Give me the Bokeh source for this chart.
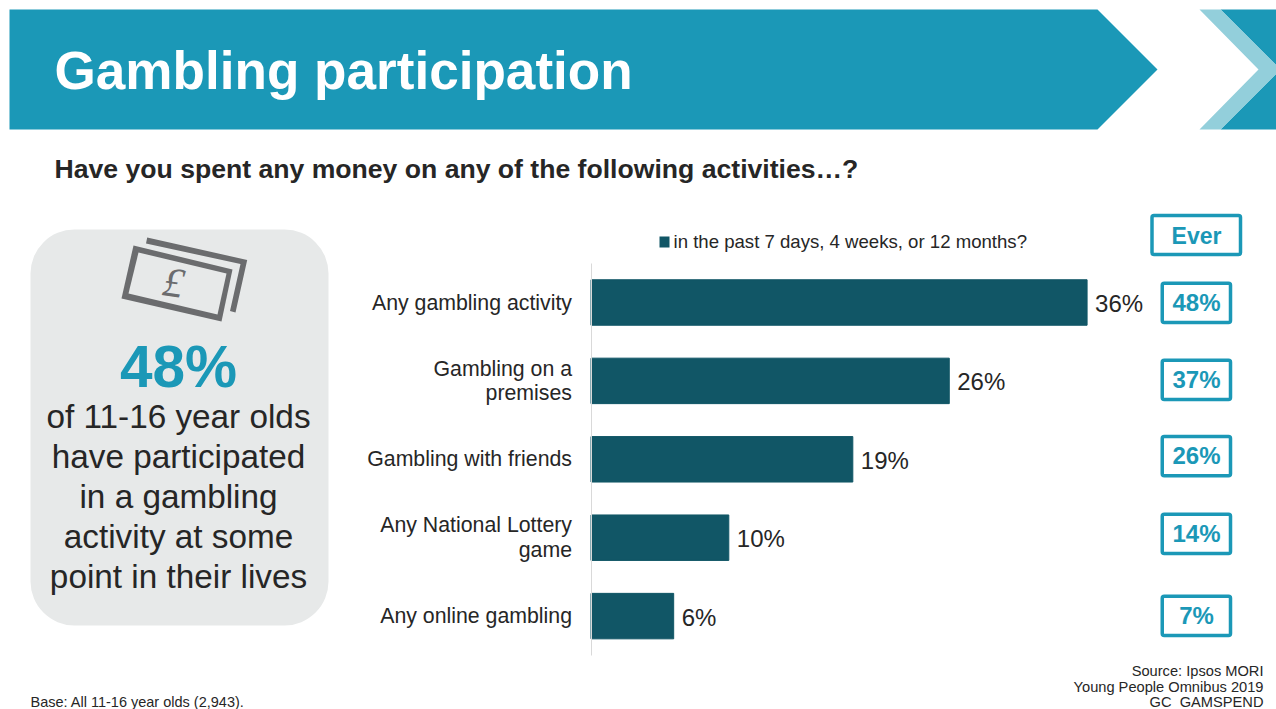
from bokeh.plotting import figure
from bokeh.core.properties import value
from bokeh.models import Label, LabelSet, BoxAnnotation, PolyAnnotation, ColumnDataSource, Range1d, LinearAxis, FixedTicker
from bokeh.embed import file_html
from bokeh.resources import INLINE

categories = ["Any gambling activity", "Gambling on a\npremises", "Gambling with friends",
              "Any National Lottery\ngame", "Any online gambling"]
past_year = [36, 26, 19, 10, 6]
ever = [48, 37, 26, 14, 7]
TITLE = "Gambling participation"
QUESTION = "Have you spent any money on any of the following activities\u2026?"
LEGEND = "in the past 7 days, 4 weeks, or 12 months?"
CALLOUT_VALUE = "48%"
CALLOUT_LINES = ["of 11-16 year olds", "have participated", "in a gambling", "activity at some", "point in their lives"]
SOURCE_LINES = ["Source: Ipsos MORI", "Young People Omnibus 2019", "GC\u00a0\u00a0GAMSPEND"]
BASE = "Base: All 11-16 year olds (2,943)."

TEAL = "#1B98B7"
LIGHT = "#93CFDB"
BAR = "#115666"
INK = "#262626"
ICON = "#6B6C6E"
PANEL = "#E7E9E9"
FONT = "Liberation Sans"
W, H = 1276, 709
X0, PX_PER_PCT = 590.5, 13.78
Y0, PX_PER_ROW = 302, 78.4

p = figure(width=W, height=H, output_backend="svg", toolbar_location=None,
           x_range=Range1d(-X0 / PX_PER_PCT, (W - X0) / PX_PER_PCT),
           y_range=Range1d((H - Y0) / PX_PER_ROW, -Y0 / PX_PER_ROW),
           x_axis_location=None, y_axis_location=None,
           min_border_left=0, min_border_right=0, min_border_top=0, min_border_bottom=0)
p.outline_line_color = None
p.background_fill_color = None
p.border_fill_color = "white"
p.grid.visible = False

rows = list(range(len(categories)))
ticks, overrides = [], {}
for r, c in zip(rows, categories):
    parts = c.split("\n")
    if len(parts) == 1:
        ticks.append(r)
        overrides[r] = c
    else:
        for k, part in zip((-0.156, 0.156), parts):
            ticks.append(r + k)
            overrides[r + k] = part
ax = LinearAxis(ticker=FixedTicker(ticks=ticks), major_label_overrides=overrides,
                fixed_location=0, bounds=(-0.5, 4.5))
ax.axis_line_color = "#D9D9D9"
ax.axis_line_width = 1
ax.major_tick_line_color = None
ax.minor_tick_line_color = None
ax.major_label_standoff = 13
ax.major_label_text_font = FONT
ax.major_label_text_font_size = "21.3px"
ax.major_label_text_color = INK
p.add_layout(ax, "left")

src = ColumnDataSource(dict(y=rows, v=past_year, t=[f"{v}%" for v in past_year]))
p.hbar(y="y", right="v", left=0, height=0.58, source=src, color=BAR)
p.add_layout(LabelSet(x="v", y="y", text="t", source=src, x_offset=8, y_offset=-1, text_font=value(FONT),
                      text_font_size="24px", text_color=INK, text_baseline="middle"))


def poly(xs, ys, fill, line=None, lw=0):
    p.add_layout(PolyAnnotation(xs=list(xs), ys=list(ys), xs_units="canvas", ys_units="canvas",
                                fill_color=fill, fill_alpha=1 if fill else 0,
                                line_color=line, line_width=lw, line_alpha=1 if line else 0, level="overlay"))


def text(x, y, s, size, color=INK, bold=False, align="left", angle=0, font=FONT, style=None):
    st = style or ("bold" if bold else "normal")
    p.add_layout(Label(x=x, y=y - 1, x_units="canvas", y_units="canvas", text=s, text_font=font,
                       text_font_size=f"{size}px", text_color=color, text_font_style=st,
                       text_align=align, text_baseline="middle", angle=angle, angle_units="deg", level="overlay"))


def box(l, t, r, b, fill=None, line=None, lw=0, radius=0, level="overlay"):
    p.add_layout(BoxAnnotation(left=l, right=r, top=t, bottom=b,
                               left_units="canvas", right_units="canvas", top_units="canvas", bottom_units="canvas",
                               fill_color=fill, fill_alpha=1 if fill else 0, line_color=line, line_width=lw,
                               line_alpha=1 if line else 0, border_radius=radius, level=level, editable=False))


# banner
poly([9, 1097, 1157, 1097, 9], [9, 9, 69, 129, 129], TEAL)
poly([1220, 1276, 1276], [9, 9, 65], TEAL)
poly([1220, 1276, 1276], [129, 129, 73], TEAL)
poly([1199, 1220, 1276, 1276, 1220, 1199, 1258], [9, 9, 65, 73, 129, 129, 69], LIGHT)
text(54, 71, TITLE, 53.1, "white", True)
text(54, 169, QUESTION, 26.6, INK, True)

# callout
box(30, 229, 328, 625, PANEL, None, 0, 44)
poly([146.7, 246.7, 235, 229.5, 240, 145.5], [237, 259.5, 312, 310.5, 263.5, 243], ICON)
poly([133, 232, 221, 121], [245, 269, 321, 298], ICON)
poly([138, 226, 217, 128], [252, 273, 314, 293], PANEL)
text(173, 283, "\u00a3", 42, ICON, angle=-8, font="Liberation Serif", style="italic", align="center")
text(178, 367, CALLOUT_VALUE, 58.5, TEAL, True, "center")
for i, line in enumerate(CALLOUT_LINES):
    text(178, 417 + 40 * i, line, 33.3, INK, False, "center")

# legend
box(659, 236, 669, 247, BAR)
text(673, 242, LEGEND, 18.6)

# ever boxes
box(1151.5, 215, 1240, 254, None, TEAL, 3.5, 2)
text(1196, 236, "Ever", 23, TEAL, True, "center")
ever_tops = [281, 358, 434.3, 512, 594]
for v, t in zip(ever, ever_tops):
    box(1161.75, t + 1.75, 1230, t + 41, None, TEAL, 3.5, 2)
    text(1196, t + 21.5, f"{v}%", 24, TEAL, True, "center")

# foot
for y, line in zip([671.5, 687, 702.5], SOURCE_LINES):
    text(1263, y, line, 14.65, INK, False, "right")
text(30, 702.5, BASE, 14.5)

open("out.html", "w").write(file_html(p, INLINE))
